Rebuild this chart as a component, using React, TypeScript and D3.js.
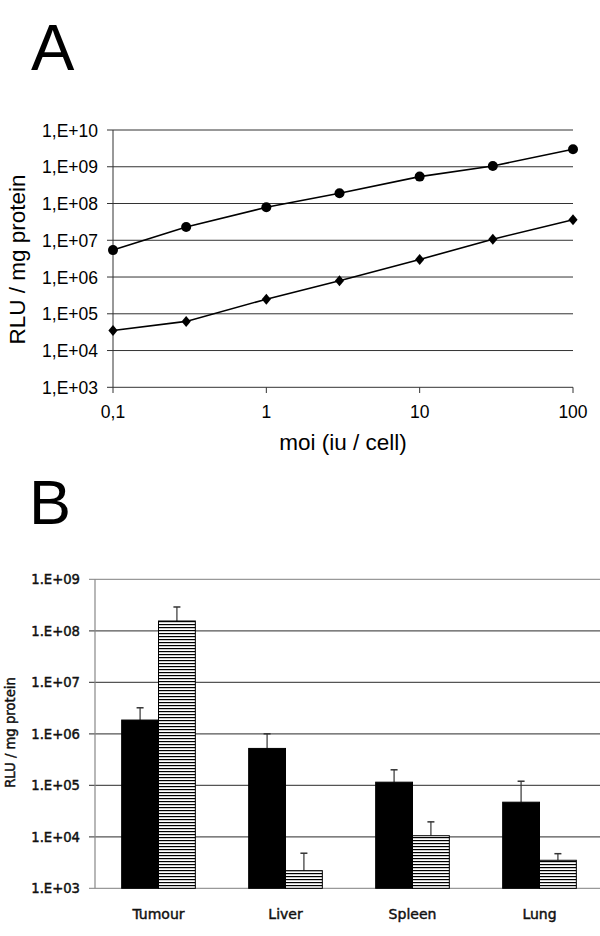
import React from "react";
import * as d3 from "d3";

// Panel A data
const moi = [0.1, 0.3, 1, 3, 10, 30, 100];
const seriesCircle = [5.4e6, 2.3e7, 7.9e7, 1.9e8, 5.4e8, 1.05e9, 3.0e9];
const seriesDiamond = [3.5e4, 6.2e4, 2.5e5, 7.9e5, 3.0e6, 1.07e7, 3.6e7];
const yTicksA = [1e3, 1e4, 1e5, 1e6, 1e7, 1e8, 1e9, 1e10];
const yTickLabelsA = ["1,E+03", "1,E+04", "1,E+05", "1,E+06", "1,E+07", "1,E+08", "1,E+09", "1,E+10"];
const xTicksA = [0.1, 1, 10, 100];
const xTickLabelsA = ["0,1", "1", "10", "100"];

// Panel B data
const organs = ["Tumour", "Liver", "Spleen", "Lung"];
const seriesKeys = ["solid", "striped"];
const solidValues = [1.85e6, 5.2e5, 1.15e5, 4.7e4];
const solidErrTop = [3.2e6, 1.0e6, 2.0e5, 1.2e5];
const stripedValues = [1.55e8, 2.2e3, 1.05e4, 3.5e3];
const stripedErrTop = [2.9e8, 4.8e3, 1.95e4, 4.7e3];
const yTicksB = [1e3, 1e4, 1e5, 1e6, 1e7, 1e8, 1e9];
const yTickLabelsB = ["1.E+03", "1.E+04", "1.E+05", "1.E+06", "1.E+07", "1.E+08", "1.E+09"];

export default function App() {
  const fontA = "'Liberation Sans', Arial, sans-serif";
  const fontB = "'DejaVu Sans', Verdana, sans-serif";

  // Panel A scales
  const xA = d3.scaleLog().domain([0.1, 100]).range([113, 573]);
  const yA = d3.scaleLog().domain([1e3, 1e10]).range([387.3, 130]);
  const line = d3
    .line<number>()
    .x((_, i) => xA(moi[i]))
    .y((d) => yA(d));

  // Panel B scales
  const xB = d3.scaleBand<string>().domain(organs).range([95, 603]).paddingInner(0.42).paddingOuter(0.21);
  const xBInner = d3.scaleBand<string>().domain(seriesKeys).range([0, xB.bandwidth()]);
  const yB = d3.scaleLog().domain([1e3, 1e9]).range([888.3, 579.3]);

  const bars = organs.flatMap((o, i) => [
    { organ: o, key: "solid", v: solidValues[i], e: solidErrTop[i] },
    { organ: o, key: "striped", v: stripedValues[i], e: stripedErrTop[i] },
  ]);

  const diamond = (cx: number, cy: number) =>
    `M${cx},${cy - 5.5}L${cx + 4.6},${cy}L${cx},${cy + 5.5}L${cx - 4.6},${cy}Z`;

  const textB = { fontFamily: fontB, fill: "#111", stroke: "#111", strokeWidth: 0.45 };

  return (
    <svg
      width={600}
      height={936}
      style={{ position: "absolute", left: 0, top: 0, background: "#fff" }}
    >
      <defs>
        <pattern id="hstripe" patternUnits="userSpaceOnUse" width={6} height={3}>
          <rect x={0} y={0} width={6} height={3} fill="#fff" />
          <rect x={0} y={0} width={6} height={1.2} fill="#000" />
        </pattern>
      </defs>
      <rect x={0} y={0} width={600} height={936} fill="#fff" />

      {/* Panel label A */}
      <text x={31} y={70} fontFamily={fontA} fontSize={65} fill="#000">
        A
      </text>

      {/* Panel A grid */}
      {yTicksA.map((t, i) => (
        <g key={"ga" + i}>
          <line x1={107} x2={573} y1={yA(t)} y2={yA(t)} stroke="#333" strokeWidth={1} />
          <text
            x={98}
            y={yA(t) + 6.5}
            textAnchor="end"
            fontFamily={fontA}
            fontSize={17.5}
            fill="#000"
          >
            {yTickLabelsA[i]}
          </text>
        </g>
      ))}
      <line x1={113} x2={113} y1={130} y2={387.3} stroke="#333" strokeWidth={1} />
      {xTicksA.map((t, i) => (
        <g key={"xa" + i}>
          <line x1={xA(t)} x2={xA(t)} y1={387.3} y2={393} stroke="#333" strokeWidth={1} />
          <text
            x={xA(t)}
            y={418}
            textAnchor="middle"
            fontFamily={fontA}
            fontSize={17.5}
            fill="#000"
          >
            {xTickLabelsA[i]}
          </text>
        </g>
      ))}
      <text x={343} y={450} textAnchor="middle" fontFamily={fontA} fontSize={22.5} fill="#000">
        moi (iu / cell)
      </text>
      <text
        transform="translate(24.5,259.5) rotate(-90)"
        textAnchor="middle"
        fontFamily={fontA}
        fontSize={22.5}
        fill="#000"
      >
        RLU / mg protein
      </text>

      {/* Panel A series */}
      <path d={line(seriesCircle) || ""} fill="none" stroke="#000" strokeWidth={1.6} />
      <path d={line(seriesDiamond) || ""} fill="none" stroke="#000" strokeWidth={1.6} />
      {seriesCircle.map((v, i) => (
        <circle key={"c" + i} cx={xA(moi[i])} cy={yA(v)} r={5} fill="#000" />
      ))}
      {seriesDiamond.map((v, i) => (
        <path key={"d" + i} d={diamond(xA(moi[i]), yA(v))} fill="#000" />
      ))}

      {/* Panel label B */}
      <text x={29} y={524} fontFamily={fontA} fontSize={63} fill="#000">
        B
      </text>

      {/* Panel B grid */}
      {yTicksB.map((t, i) => (
        <g key={"gb" + i}>
          <line
            x1={89}
            x2={600}
            y1={yB(t)}
            y2={yB(t)}
            stroke={i === 0 || i === yTicksB.length - 1 ? "#999" : "#555"}
            strokeWidth={1.2}
          />
          <text x={80} y={yB(t) + 5} textAnchor="end" fontSize={13.2} {...textB}>
            {yTickLabelsB[i]}
          </text>
        </g>
      ))}
      <line x1={95} x2={95} y1={579.3} y2={888.3} stroke="#888" strokeWidth={1.2} />
      <text
        transform="translate(14.5,732.5) rotate(-90)"
        textAnchor="middle"
        fontSize={13.2}
        {...textB}
      >
        RLU / mg protein
      </text>

      {/* Panel B bars */}
      {bars.map((b, i) => {
        const x0 = (xB(b.organ) || 0) + (xBInner(b.key) || 0);
        const w = xBInner.bandwidth();
        const top = yB(b.v);
        const cx = x0 + w / 2;
        return (
          <g key={"b" + i}>
            <line x1={cx} x2={cx} y1={top} y2={yB(b.e)} stroke="#333" strokeWidth={1.2} />
            <line x1={cx - 3.5} x2={cx + 3.5} y1={yB(b.e)} y2={yB(b.e)} stroke="#333" strokeWidth={1.5} />
            <rect
              x={x0}
              y={top}
              width={w}
              height={888.3 - top}
              fill={b.key === "solid" ? "#000" : "url(#hstripe)"}
              stroke="#000"
              strokeWidth={1}
            />
          </g>
        );
      })}
      {organs.map((o, i) => (
        <text
          key={"ol" + i}
          x={(xB(o) || 0) + xB.bandwidth() / 2}
          y={919}
          textAnchor="middle"
          fontSize={14}
          {...textB}
        >
          {o}
        </text>
      ))}
    </svg>
  );
}
